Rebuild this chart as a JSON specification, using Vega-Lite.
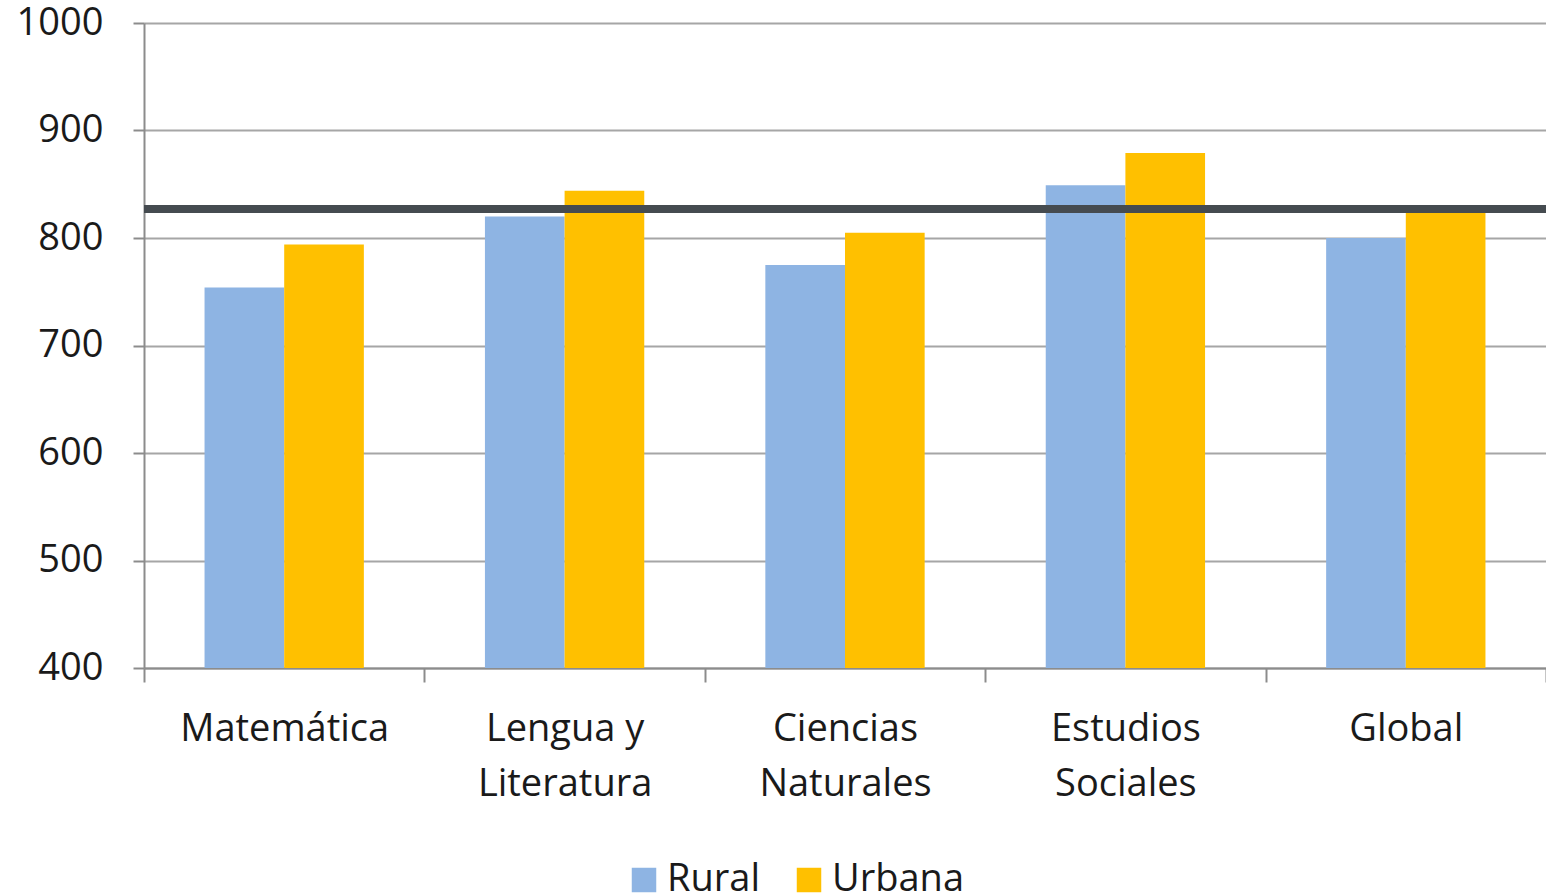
{
  "$schema": "https://vega.github.io/schema/vega-lite/v6.json",
  "width": 1402,
  "height": 645,
  "autosize": {"type": "none"},
  "padding": {"left": 144, "top": 23, "right": 0, "bottom": 227},
  "background": "white",
  "config": {
    "view": {"stroke": null},
    "font": "Open Sans",
    "axis": {"labelFont": "Open Sans", "labelColor": "#1a1a1a"},
    "legend": {"labelFont": "Open Sans", "labelColor": "#1a1a1a"}
  },
  "datasets": {
    "bars": [
      {"materia": "Matemática", "zona": "Rural", "puntaje": 754},
      {"materia": "Matemática", "zona": "Urbana", "puntaje": 794},
      {"materia": "Lengua y Literatura", "zona": "Rural", "puntaje": 820},
      {"materia": "Lengua y Literatura", "zona": "Urbana", "puntaje": 844},
      {"materia": "Ciencias Naturales", "zona": "Rural", "puntaje": 775},
      {"materia": "Ciencias Naturales", "zona": "Urbana", "puntaje": 805},
      {"materia": "Estudios Sociales", "zona": "Rural", "puntaje": 849},
      {"materia": "Estudios Sociales", "zona": "Urbana", "puntaje": 879},
      {"materia": "Global", "zona": "Rural", "puntaje": 800},
      {"materia": "Global", "zona": "Urbana", "puntaje": 824}
    ],
    "ref": [{"valor": 827}]
  },
  "layer": [
    {
      "data": {"name": "bars"},
      "mark": {"type": "bar", "clip": true},
      "encoding": {
        "x": {
          "field": "materia",
          "type": "nominal",
          "sort": ["Matemática", "Lengua y Literatura", "Ciencias Naturales", "Estudios Sociales", "Global"],
          "scale": {"paddingInner": 0, "paddingOuter": 0},
          "axis": {
            "title": null,
            "labelAngle": 0,
            "labelFontSize": 38,
            "labelLineHeight": 55,
            "labelPadding": 28,
            "labelLimit": 0,
            "labelExpr": "datum.label == 'Lengua y Literatura' ? ['Lengua y', 'Literatura'] : split(datum.label, ' ')",
            "domainColor": "#8c8c8c",
            "domainWidth": 2,
            "tickColor": "#8c8c8c",
            "tickWidth": 2,
            "tickSize": 14,
            "tickBand": "extent",
            "grid": false
          }
        },
        "xOffset": {"field": "zona", "type": "nominal", "sort": ["Rural", "Urbana"], "scale": {"paddingInner": 0, "paddingOuter": 0.76}},
        "y": {
          "field": "puntaje",
          "type": "quantitative",
          "scale": {"domain": [400, 1000], "nice": false, "zero": false},
          "axis": {
            "title": null,
            "values": [400, 500, 600, 700, 800, 900, 1000],
            "format": "d",
            "labelFontSize": 38,
            "labelPadding": 30,
            "tickSize": 11,
            "tickColor": "#8c8c8c",
            "tickWidth": 2,
            "domainColor": "#8c8c8c",
            "domainWidth": 2,
            "gridColor": "#a6a6a6",
            "gridWidth": 2
          }
        },
        "color": {
          "field": "zona",
          "type": "nominal",
          "scale": {"domain": ["Rural", "Urbana"], "range": ["#8eb4e3", "#ffc000"]},
          "legend": {
            "title": null,
            "orient": "none",
            "legendX": 481,
            "legendY": 838,
            "padding": 0,
            "direction": "horizontal",
            "symbolType": "square",
            "symbolSize": 600,
            "symbolStrokeWidth": 0,
            "labelFontSize": 38,
            "labelOffset": 4,
            "columnPadding": 30
          }
        }
      }
    },
    {
      "data": {"name": "ref"},
      "mark": {"type": "rule", "color": "#454b50", "strokeWidth": 8},
      "encoding": {"y": {"field": "valor", "type": "quantitative"}}
    }
  ]
}
